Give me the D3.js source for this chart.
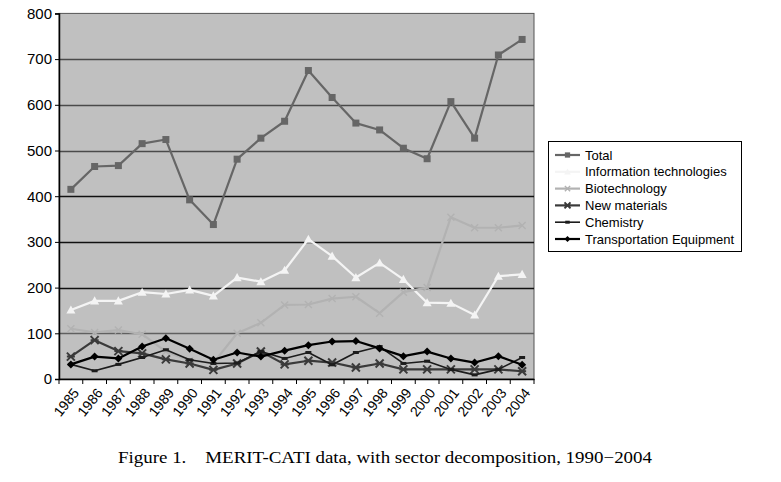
<!DOCTYPE html>
<html>
<head>
<meta charset="utf-8">
<script src="https://cdn.jsdelivr.net/npm/d3@7"></script>
<style>
  body { margin: 0; background: #fff; }
  svg { display: block; }
</style>
</head>
<body>
<svg id="chart" width="781" height="482"></svg>
<script>
const years = ["1985","1986","1987","1988","1989","1990","1991","1992","1993","1994","1995","1996","1997","1998","1999","2000","2001","2002","2003","2004"];
const yTicks = [0,100,200,300,400,500,600,700,800];
const total = [415,465,467,515,524,392,338,481,527,564,675,616,560,545,505,482,607,527,709,743];
const infoTech = [151,171,171,190,186,195,182,222,213,238,306,269,222,254,218,167,166,140,225,229];
const biotech = [110,102,107,98,60,40,35,100,123,162,163,176,180,144,190,200,354,331,331,336];
const newMaterials = [49,85,61,56,43,34,20,34,60,32,40,36,25,34,21,21,21,21,21,17];
const chemistry = [32,18,32,47,64,42,34,35,60,45,58,31,58,71,34,39,21,9,21,47];
const transport = [32,49,45,71,89,66,42,58,49,62,74,82,83,67,50,60,45,36,50,31];
const seriesNames = ["Total","Information technologies","Biotechnology","New materials","Chemistry","Transportation Equipment"];
const caption = "Figure 1.\u00a0\u00a0\u00a0 MERIT-CATI data, with sector decomposition, 1990\u22122004";

const seriesData = [total, infoTech, biotech, newMaterials, chemistry, transport];
const styles = [
  {color:"#666666", width:2.2, marker:"square", size:7},
  {color:"#f4f4f4", width:2.2, marker:"triangle", size:9},
  {color:"#b2b2b2", width:2.2, marker:"x", size:7},
  {color:"#3a3a3a", width:2.2, marker:"star", size:8},
  {color:"#1c1c1c", width:1.6, marker:"dash", size:6},
  {color:"#000000", width:2.2, marker:"diamond", size:8}
];

const svg = d3.select("#chart");
const L = 59, R = 534, T = 13.4, B = 379;

const x = d3.scaleBand().domain(years).range([L, R]).padding(0);
const y = d3.scaleLinear().domain([0, 800]).range([B, T]);
const cx = d => x(d) + x.bandwidth() / 2;

// plot background
svg.append("rect").attr("x", L).attr("y", T).attr("width", R - L).attr("height", B - T)
  .attr("fill", "#c0c0c0").attr("stroke", "#555").attr("stroke-width", 1);

// gridlines
const gridColor = {100:"#606060",200:"#111",300:"#111",400:"#111",500:"#4a4a4a",600:"#4a4a4a",700:"#4a4a4a"};
svg.append("g").selectAll("line").data(yTicks.filter(v => v > 0 && v < 800)).join("line")
  .attr("x1", L).attr("x2", R).attr("y1", d => Math.round(y(d)) + 0.5).attr("y2", d => Math.round(y(d)) + 0.5)
  .attr("stroke", d => gridColor[d]).attr("stroke-width", 1.6);

// y axis
const yAxis = svg.append("g").attr("transform", `translate(${L},0)`)
  .call(d3.axisLeft(y).tickValues(yTicks).tickSize(4).tickPadding(3));
yAxis.select(".domain").attr("stroke", "#000").attr("stroke-width", 1.5);
yAxis.selectAll(".tick line").attr("stroke", "#000");
yAxis.selectAll("text").attr("font-family", "Liberation Sans, Arial, sans-serif")
  .attr("font-size", 15).attr("fill", "#000");

// x axis
const xAxis = svg.append("g").attr("transform", `translate(0,${B})`)
  .call(d3.axisBottom(x).tickSize(0));
xAxis.select(".domain").attr("stroke", "#000").attr("stroke-width", 1.5);
xAxis.selectAll(".tick line").remove();
xAxis.selectAll(".tick text")
  .attr("font-family", "Liberation Sans, Arial, sans-serif").attr("font-size", 14).attr("fill", "#000")
  .attr("text-anchor", "end").attr("dy", "0.35em")
  .attr("transform", "translate(5,11) rotate(-52)").attr("x", 0).attr("y", 0);
// ticks at band edges
svg.append("g").selectAll("line").data(years.concat(["end"])).join("line")
  .attr("x1", (d, i) => L + i * x.bandwidth()).attr("x2", (d, i) => L + i * x.bandwidth())
  .attr("y1", B).attr("y2", B + 5).attr("stroke", "#000").attr("stroke-width", 1);

function drawMarker(g, type, size, color) {
  const s = size / 2;
  if (type === "square") {
    g.append("rect").attr("x", -s).attr("y", -s).attr("width", size).attr("height", size).attr("fill", color);
  } else if (type === "triangle") {
    g.append("path").attr("d", `M0,${-s}L${s},${s*0.8}L${-s},${s*0.8}Z`).attr("fill", color);
  } else if (type === "x") {
    g.append("path").attr("d", `M${-s},${-s}L${s},${s}M${s},${-s}L${-s},${s}`).attr("stroke", color).attr("stroke-width", 1.4);
  } else if (type === "star") {
    g.append("path").attr("d", `M${-s},${-s}L${s},${s}M${s},${-s}L${-s},${s}M${-s},0L${s},0`).attr("stroke", color).attr("stroke-width", 2);
  } else if (type === "dash") {
    g.append("path").attr("d", `M${-s},0L${s},0`).attr("stroke", color).attr("stroke-width", 3);
  } else if (type === "diamond") {
    g.append("path").attr("d", `M0,${-s}L${s},0L0,${s}L${-s},0Z`).attr("fill", color);
  }
}

const line = d3.line().x((d, i) => cx(years[i])).y(d => y(d));
seriesData.forEach((data, k) => {
  const st = styles[k];
  const g = svg.append("g");
  g.append("path").datum(data).attr("d", line).attr("fill", "none")
    .attr("stroke", st.color).attr("stroke-width", st.width).attr("stroke-linejoin", "round");
  data.forEach((v, i) => {
    const mg = g.append("g").attr("transform", `translate(${cx(years[i])},${y(v)})`);
    drawMarker(mg, st.marker, st.size, st.color);
  });
});

// legend
const lg = svg.append("g");
lg.append("rect").attr("x", 548.5).attr("y", 141.5).attr("width", 193).attr("height", 110)
  .attr("fill", "#fff").attr("stroke", "#000").attr("stroke-width", 1);
seriesNames.forEach((name, k) => {
  const st = styles[k];
  const yy = 155 + k * 16.8;
  lg.append("line").attr("x1", 555).attr("x2", 580).attr("y1", yy).attr("y2", yy)
    .attr("stroke", st.color).attr("stroke-width", st.width);
  const mg = lg.append("g").attr("transform", `translate(567.5,${yy})`);
  drawMarker(mg, st.marker, st.size * 0.75, st.color);
  lg.append("text").attr("x", 585).attr("y", yy).attr("dy", "0.35em")
    .attr("font-family", "Liberation Sans, Arial, sans-serif").attr("font-size", 13)
    .attr("fill", "#000").text(name);
});

// caption
svg.append("text").attr("x", 118).attr("y", 463)
  .attr("font-family", "Liberation Serif, Times New Roman, serif").attr("font-size", 16)
  .attr("textLength", 534).attr("lengthAdjust", "spacingAndGlyphs")
  .attr("fill", "#000").text(caption);
</script>
</body>
</html>
